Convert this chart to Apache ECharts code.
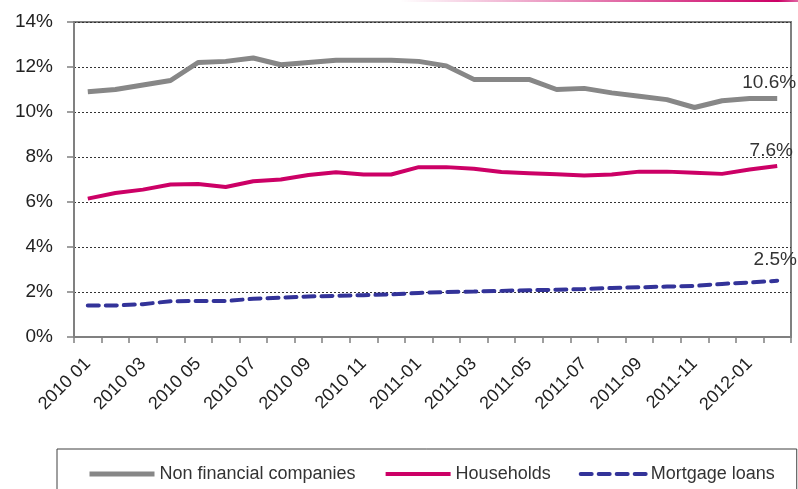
<!DOCTYPE html>
<html>
<head>
<meta charset="utf-8">
<script src="https://cdn.jsdelivr.net/npm/echarts@6/dist/echarts.min.js"></script>
<style>
  html, body { margin: 0; padding: 0; background: #fff; }
  #chart { width: 798px; height: 489px; }
</style>
</head>
<body>
<div id="chart"></div>
<script>
const months = [
  '2010 01', '2010 02', '2010 03', '2010 04', '2010 05', '2010 06',
  '2010 07', '2010 08', '2010 09', '2010 10', '2010 11', '2010 12',
  '2011-01', '2011-02', '2011-03', '2011-04', '2011-05', '2011-06',
  '2011-07', '2011-08', '2011-09', '2011-10', '2011-11', '2011-12',
  '2012-01', '2012-02'
];
const nonFinancial = [
  10.9, 11.0, 11.2, 11.4, 12.2, 12.25, 12.4, 12.1, 12.2, 12.3, 12.3, 12.3,
  12.25, 12.05, 11.45, 11.45, 11.45, 11.0, 11.05, 10.85, 10.7, 10.55, 10.2, 10.5,
  10.6, 10.6
];
const households = [
  6.15, 6.4, 6.55, 6.78, 6.8, 6.67, 6.92, 7.0, 7.2, 7.32, 7.22, 7.22,
  7.55, 7.55, 7.48, 7.33, 7.28, 7.23, 7.18, 7.22, 7.35, 7.35, 7.3, 7.25,
  7.44, 7.6
];
const mortgage = [
  1.4, 1.4, 1.46, 1.59, 1.6, 1.6, 1.7, 1.75, 1.8, 1.83, 1.86, 1.89,
  1.96, 2.0, 2.02, 2.05, 2.08, 2.1, 2.13, 2.18, 2.21, 2.24, 2.27, 2.36,
  2.42, 2.5
];
const yTicks = { min: 0, max: 14, step: 2 };

const chart = echarts.init(document.getElementById('chart'));
const font = 'Liberation Sans, Arial, sans-serif';
const last = months.length - 1;

function endLabel(offset) {
  return {
    show: true,
    position: 'top',
    distance: 6,
    offset: offset,
    fontFamily: font,
    fontSize: 19,
    color: '#333',
    formatter: p => (p.dataIndex === last ? p.value.toFixed(1) + '%' : '')
  };
}

function lineSeries(name, data, color, lineStyle, offset) {
  return {
    name: name,
    type: 'line',
    data: data,
    symbol: 'circle',
    symbolSize: 0,
    showSymbol: true,
    lineStyle: Object.assign({ color: color }, lineStyle),
    itemStyle: { color: color },
    label: endLabel(offset)
  };
}

chart.setOption({
  animation: false,
  textStyle: { fontFamily: font },
  graphic: [
    {
      type: 'rect',
      shape: { x: 400, y: 0, width: 398, height: 2 },
      style: {
        fill: new echarts.graphic.LinearGradient(0, 0, 1, 0, [
          { offset: 0, color: 'rgba(204,0,102,0)' },
          { offset: 0.95, color: 'rgba(204,0,102,1)' },
          { offset: 1, color: 'rgba(204,0,102,0.6)' }
        ])
      },
      silent: true
    }
  ],
  grid: {
    left: 74,
    right: 7,
    top: 22,
    bottom: 152,
    show: true,
    borderColor: '#808080',
    borderWidth: 2
  },
  legend: {
    left: 57,
    top: 449,
    padding: [16, 22, 20, 30],
    borderColor: '#404040',
    borderWidth: 1,
    itemWidth: 65,
    itemHeight: 14,
    itemGap: 28,
    itemStyle: { opacity: 0 },
    lineStyle: { width: 'inherit' },
    textStyle: { fontFamily: font, fontSize: 18, color: '#333' },
    data: ['Non financial companies', 'Households', 'Mortgage loans']
  },
  xAxis: {
    type: 'category',
    data: months,
    boundaryGap: true,
    axisLine: { lineStyle: { color: '#808080', width: 2 } },
    axisTick: { show: true, interval: 0, length: 6, lineStyle: { color: '#808080', width: 1.5 } },
    axisLabel: {
      interval: 1,
      rotate: 45,
      margin: 24,
      fontFamily: font,
      fontSize: 18,
      color: '#222'
    },
    splitLine: { show: false }
  },
  yAxis: {
    type: 'value',
    min: yTicks.min,
    max: yTicks.max,
    interval: yTicks.step,
    axisLine: { show: true, lineStyle: { color: '#808080', width: 2 } },
    axisTick: { show: true, length: 7, lineStyle: { color: '#808080', width: 1.5 } },
    axisLabel: {
      margin: 21,
      fontFamily: font,
      fontSize: 19,
      color: '#222',
      formatter: '{value}%'
    },
    splitLine: { lineStyle: { color: '#333', type: [2, 2], width: 1 } }
  },
  series: [
    lineSeries('Non financial companies', nonFinancial, '#878787', { width: 5 }, [-8, 0]),
    lineSeries('Households', households, '#cc0066', { width: 4 }, [-6, 0]),
    lineSeries('Mortgage loans', mortgage, '#333399', { width: 4, type: [11, 7], cap: 'round' }, [-2, -5])
  ]
});
</script>
</body>
</html>
